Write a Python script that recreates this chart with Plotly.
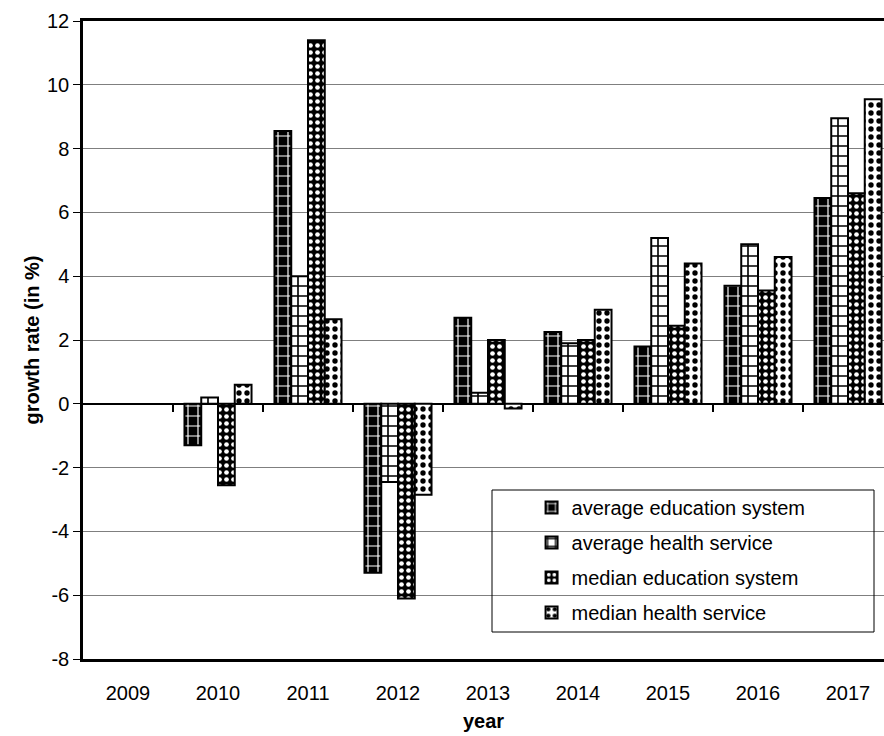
import plotly.graph_objects as go

years = ["2009", "2010", "2011", "2012", "2013", "2014", "2015", "2016", "2017"]
avg_edu = [None, -1.3, 8.55, -5.3, 2.7, 2.25, 1.8, 3.7, 6.45]
avg_health = [None, 0.2, 4.0, -2.45, 0.35, 1.9, 5.2, 5.0, 8.95]
med_edu = [None, -2.55, 11.4, -6.1, 2.0, 2.0, 2.45, 3.55, 6.6]
med_health = [None, 0.6, 2.65, -2.85, -0.15, 2.95, 4.4, 4.6, 9.55]
y_ticks = [-8, -6, -4, -2, 0, 2, 4, 6, 8, 10, 12]

series = [
    ("average education system", avg_edu, "+", "white", "black", 10, 0.22),
    ("average health service", avg_health, "+", "black", "white", 10, 0.3),
    ("median education system", med_edu, ".", "white", "black", 7, 0.35),
    ("median health service", med_health, ".", "black", "white", 8, 0.35),
]

fig = go.Figure()
for i, (name, vals, shape, fg, bg, size, sol) in enumerate(series):
    fig.add_trace(go.Bar(
        x=list(range(len(years))), y=vals, name=name, legendgroup=name,
        marker=dict(color=bg, line=dict(color="black", width=2),
                    pattern=dict(shape=shape, fgcolor=fg, bgcolor=bg,
                                 size=size, solidity=sol, fillmode="replace")),
    ))

# empty helper trace so the category-boundary ticks on the zero line are drawn
fig.add_trace(go.Scatter(x=list(range(len(years))), y=[None] * len(years),
                         xaxis="x2", showlegend=False, hoverinfo="skip",
                         mode="lines"))

fig.update_layout(
    width=884, height=736,
    margin=dict(l=83, r=0, t=21, b=77, autoexpand=False),
    paper_bgcolor="white", plot_bgcolor="white",
    barmode="group", bargap=0.255, bargroupgap=0,
    font=dict(family="Liberation Sans, Arial", size=20, color="black"),
    showlegend=True,
    legend=dict(x=0.56, y=0.268, xanchor="left", yanchor="top",
                bgcolor="rgba(0,0,0,0)", borderwidth=0,
                font=dict(size=20), traceorder="grouped", tracegroupgap=6),
    xaxis=dict(range=[-0.5, 8.4], tickmode="array", automargin=False,
               tickvals=list(range(len(years))), ticktext=years,
               showgrid=False, zeroline=False, showline=True,
               linecolor="black", linewidth=2.5, mirror=True,
               ticks="outside", ticklen=14, tickcolor="rgba(0,0,0,0)",
               tickfont=dict(size=20),
               title=dict(text="<b>year</b>", font=dict(size=20), standoff=12)),
    xaxis2=dict(overlaying="x", anchor="free", position=0.4,
                range=[-0.5, 8.4], tickmode="array",
                tickvals=[k + 0.5 for k in range(len(years) - 1)],
                showticklabels=False, ticks="outside", ticklen=7,
                tickcolor="black", tickwidth=1.5,
                showline=False, showgrid=False, zeroline=False),
    yaxis=dict(range=[-8, 12], tickmode="array", tickvals=y_ticks,
               ticktext=[str(v) for v in y_ticks], automargin=False,
               showgrid=True, gridcolor="#7f7f7f",
               gridwidth=1.3, zeroline=True, zerolinecolor="black",
               zerolinewidth=1.5, showline=True, linecolor="black",
               linewidth=2.5, ticks="outside", ticklen=7, tickcolor="black",
               tickfont=dict(size=20),
               title=dict(text="<b>growth rate (in %)</b>", font=dict(size=20),
                          standoff=3)),
)

fig.add_shape(type="rect", xref="paper", yref="paper",
              x0=(492 - 83) / 801, x1=(874 - 83) / 801,
              y0=(659 - 632) / 638, y1=(659 - 490) / 638,
              line=dict(color="black", width=1), fillcolor="rgba(0,0,0,0)")

fig.write_html("out.html", config={"displayModeBar": False},
               post_script="document.body.style.margin='0';"
                           "document.body.style.overflow='hidden';")
